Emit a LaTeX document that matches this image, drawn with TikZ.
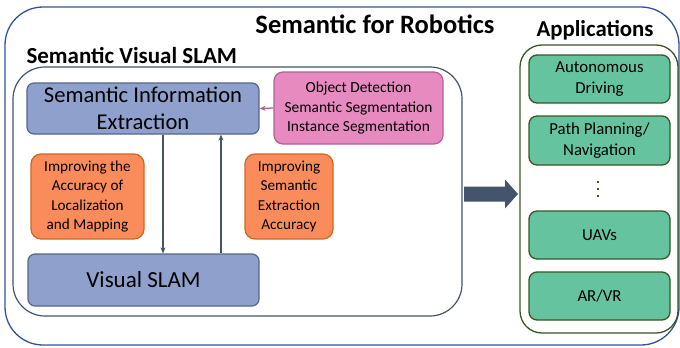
\documentclass[tikz,border=0pt]{standalone}
\usepackage{fontspec}
\setmainfont{Carlito}
\usetikzlibrary{arrows.meta}
\definecolor{outerblue}{HTML}{2F5597}
\definecolor{slate}{HTML}{44546A}
\definecolor{siefill}{HTML}{8EA0CB}
\definecolor{siedraw}{HTML}{56668A}
\definecolor{pinkfill}{HTML}{E68AC0}
\definecolor{pinkdraw}{HTML}{B0609A}
\definecolor{orfill}{HTML}{FA8C5C}
\definecolor{ordraw}{HTML}{D0661E}
\definecolor{grfill}{HTML}{65C3A0}
\definecolor{grdraw}{HTML}{385723}
\tikzset{
  px/.style={x=1pt,y=-1pt},
  bluebox/.style={draw=siedraw,fill=siefill,line width=1.2pt,rounded corners=7pt,align=center,inner sep=0pt},
  pinkbox/.style={draw=pinkdraw,fill=pinkfill,line width=1.2pt,rounded corners=9pt,align=center,inner sep=0pt,font=\fontsize{15.4}{19.5}\selectfont},
  orbox/.style={draw=ordraw,fill=orfill,line width=1.2pt,rounded corners=10pt,align=center,inner sep=0pt,font=\fontsize{15.2}{19.5}\selectfont},
  grbox/.style={draw=grdraw,fill=grfill,line width=1.3pt,rounded corners=8pt,align=center,inner sep=0pt,font=\fontsize{16.8}{21}\selectfont},
  thinarrow/.style={draw=slate,line width=1.3pt,-{Stealth[length=6pt,width=5pt]}},
}
\begin{document}
\begin{tikzpicture}[px]
\useasboundingbox (0,0) rectangle (680,348);
% outer box
\draw[outerblue,line width=1.3pt,rounded corners=38pt] (5,7) rectangle (679,345);
\node[font=\bfseries\fontsize{26.5}{30}\selectfont] (title) at (375,24) {Semantic for Robotics};
% inner box
\draw[slate,line width=1.2pt,rounded corners=32pt] (13,67) rectangle (462,316);
\node[font=\bfseries\fontsize{23}{26}\selectfont,anchor=west] (svs) at (23,55) {Semantic Visual SLAM};
% blue boxes
\node[bluebox,minimum width=232pt,minimum height=51pt,font=\fontsize{22.6}{27}\selectfont] (sie) at (143,108.5) {Semantic Information\\Extraction};
\node[bluebox,minimum width=231pt,minimum height=52pt,font=\fontsize{23}{27}\selectfont] (vs) at (143.5,280) {Visual SLAM};
% pink box
\node[pinkbox,minimum width=169pt,minimum height=72pt] (pink) at (358.5,108) {Object Detection\\Semantic Segmentation\\Instance Segmentation};
% orange boxes
\node[orbox,minimum width=113pt,minimum height=85pt] (or1) at (87.5,196.5) {Improving the\\Accuracy of\\Localization\\and Mapping};
\node[orbox,minimum width=88pt,minimum height=85pt] (or2) at (289,196.5) {Improving\\Semantic\\Extraction\\Accuracy};
% arrows
\draw[draw=pinkdraw,line width=1.3pt,-{Stealth[length=6pt,width=5pt]}] (pink.west) -- (sie.east);
\draw[thinarrow] (sie.south -| 163,0) -- (vs.north -| 163,0);
\draw[thinarrow] (vs.north -| 221,0) -- (sie.south -| 221,0);
% applications
\draw[grdraw,line width=1.3pt,rounded corners=22pt] (520,45) rectangle (678,333);
\node[font=\bfseries\fontsize{22.8}{26}\selectfont] (apps) at (595,30) {Applications};
\node[grbox,minimum width=141pt,minimum height=48pt] (ad) at (599.5,79) {Autonomous\\Driving};
\node[grbox,minimum width=141pt,minimum height=49pt] (pp) at (599.5,140.5) {Path Planning/\\Navigation};
\node[grbox,minimum width=141pt,minimum height=48pt] (uav) at (599.5,235) {UAVs};
\node[grbox,minimum width=141pt,minimum height=48pt] (ar) at (599.5,296) {AR/VR};
\foreach \yy in {182,189,196} \fill[grdraw] (597,\yy-1.2) rectangle (599.4,\yy+1.2);
% big arrow
\fill[slate] (464,186.5) -- (505,186.5) -- (505,179.5) -- (518,194) -- (505,208.5) -- (505,201.5) -- (464,201.5) -- cycle;
\end{tikzpicture}
\end{document}
